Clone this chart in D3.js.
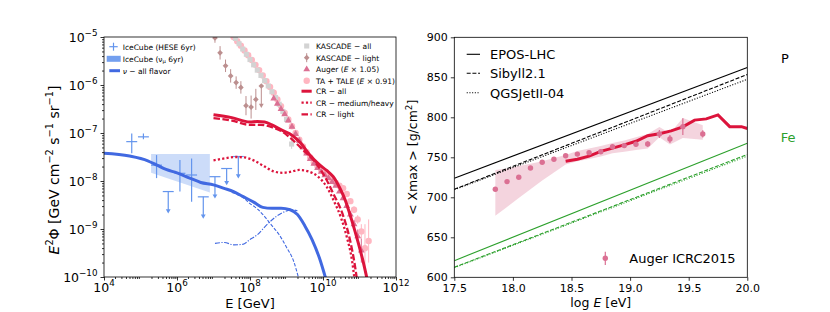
<!DOCTYPE html>
<html>
<head>
<meta charset="utf-8">
<script src="https://cdnjs.cloudflare.com/ajax/libs/d3/7.8.5/d3.min.js"></script>
<style>
  body { margin: 0; background: #fff; }
  svg { font-family: "DejaVu Sans", sans-serif; }
</style>
</head>
<body>
<svg id="chart" width="830" height="312"></svg>
<script>
// ---------- left panel, values are log10(E / GeV) and log10(E^2 Phi) ----------
var nuE    = [4.0, 4.7, 5.2, 5.45, 5.7, 6.0, 6.35, 6.65, 7.0, 7.27, 7.55, 7.8, 8.1, 8.35, 8.6, 8.85, 9.1, 9.3, 9.5, 9.7, 9.9, 10.07];
var nuAll  = [-7.42, -7.48, -7.58, -7.67, -7.76, -7.83, -7.94, -8.03, -8.08, -8.15, -8.22, -8.32, -8.44, -8.55, -8.57, -8.57, -8.60, -8.70, -8.93, -9.22, -9.6, -10.02];
var nuPpE  = [7.5, 7.8, 8.0, 8.2, 8.4, 8.6, 8.8, 9.0, 9.2, 9.33];
var nuPp   = [-8.24, -8.34, -8.47, -8.58, -8.74, -8.93, -9.12, -9.38, -9.68, -10.02];
var nuPgE  = [7.04, 7.3, 7.55, 7.8, 8.0, 8.2, 8.45, 8.7, 8.95, 9.15, 9.3];
var nuPg   = [-9.30, -9.28, -9.33, -9.32, -9.22, -9.12, -8.92, -8.75, -8.64, -8.60, -8.62];

var crE      = [7.0, 7.5, 8.0, 8.2, 8.4, 8.6, 8.9, 9.1, 9.4, 9.65, 9.9, 10.1, 10.28, 10.45, 10.6, 10.78, 10.97, 11.1, 11.21];
var crAll    = [-6.62, -6.68, -6.77, -6.76, -6.77, -6.83, -6.95, -7.02, -7.22, -7.47, -7.66, -7.78, -7.91, -8.13, -8.38, -8.80, -9.30, -9.68, -10.05];
var crLightE = [7.0, 7.5, 8.0, 8.3, 8.6, 8.9, 9.1, 9.45, 9.8, 10.1, 10.28, 10.56, 10.74, 10.88, 10.93];
var crLight  = [-6.69, -6.74, -6.83, -6.83, -6.88, -6.98, -7.10, -7.35, -7.62, -7.98, -8.26, -8.74, -9.23, -9.79, -10.05];
var crHeavyE = [7.0, 7.3, 7.6, 7.85, 8.1, 8.4, 8.65, 8.9, 9.1, 9.35, 9.6, 9.85, 10.1, 10.3, 10.5, 10.65, 10.8, 10.86];
var crHeavy  = [-7.57, -7.53, -7.50, -7.51, -7.57, -7.70, -7.80, -7.83, -7.81, -7.77, -7.80, -7.90, -8.12, -8.42, -8.78, -9.16, -9.68, -10.02];

// IceCube HESE 6yr (ul = upper limit, lo = arrow end)
var hesE  = [4.76, 5.08, 5.44, 5.76, 6.08, 6.40, 6.72, 7.04, 7.36, 7.68];
var hesY  = [-7.18, -7.08, -7.67, -8.22, -7.84, -7.875, -8.33, -7.91, -7.74, -7.49];
var hesLo = [-7.42, -7.13, -7.94, -8.64, -8.22, -8.43, -8.75, -8.33, -8.05, -7.91];
var hesHi = [-7.01, -7.01, -7.46, -8.22, -7.56, -7.53, -8.33, -7.91, -7.74, -7.49];
var hesUL = [0, 0, 0, 1, 0, 0, 1, 1, 1, 1];
// IceCube numu 6yr band
var bandE  = [5.29, 6.90];
var bandLo = [-7.83, -8.24];
var bandHi = [-7.44, -7.44];

var kaE   = [7.3, 7.4, 7.5, 7.6, 7.7, 7.8, 7.9, 8.0, 8.1, 8.2, 8.3, 8.4, 8.5, 8.6, 8.7, 8.8, 8.9, 9.0, 9.14];
var kaY   = [-4.70, -4.81, -4.92, -5.03, -5.14, -5.25, -5.36, -5.47, -5.58, -5.69, -5.80, -5.91, -6.02, -6.14, -6.26, -6.40, -6.55, -6.72, -7.23];
var kaErr = [0.02, 0.02, 0.02, 0.02, 0.02, 0.02, 0.02, 0.02, 0.02, 0.02, 0.02, 0.02, 0.02, 0.03, 0.03, 0.04, 0.05, 0.06, 0.10];

var klE   = [7.04, 7.18, 7.33, 7.47, 7.62, 7.75, 7.89, 8.03, 8.16, 8.31];
var klY   = [-5.02, -5.33, -5.60, -5.81, -5.95, -6.05, -6.43, -6.46, -6.30, -6.02];
var klErr = [0.10, 0.14, 0.13, 0.14, 0.13, 0.13, 0.20, 0.24, 0.22, 0.42];
var klUL  = [0, 0, 0, 0, 0, 0, 0, 0, 0, 1];

var auE   = [8.65, 8.75, 8.85, 8.95, 9.05, 9.15, 9.25, 9.35, 9.45, 9.55, 9.65, 9.75, 9.85, 9.95, 10.05, 10.15, 10.25, 10.35, 10.45, 10.55, 10.65, 10.75, 10.85, 10.95, 11.05];
var auY   = [-6.28, -6.39, -6.50, -6.61, -6.74, -6.87, -7.02, -7.16, -7.30, -7.43, -7.54, -7.64, -7.73, -7.81, -7.88, -7.94, -8.02, -8.10, -8.22, -8.36, -8.52, -8.70, -8.90, -9.15, -9.45];
var auErr = [0.02, 0.02, 0.02, 0.02, 0.02, 0.02, 0.02, 0.02, 0.02, 0.02, 0.02, 0.02, 0.02, 0.02, 0.02, 0.02, 0.02, 0.03, 0.03, 0.04, 0.05, 0.06, 0.09, 0.14, 0.25];

var taE   = [7.45, 7.55, 7.65, 7.75, 7.85, 7.95, 8.05, 8.15, 8.25, 8.35, 8.45, 8.55, 8.65, 8.75, 8.85, 8.95, 9.05, 9.15, 9.25, 9.35, 9.45, 9.55, 9.65, 9.75, 9.85, 9.95, 10.05, 10.15, 10.25, 10.35, 10.45, 10.55, 10.65, 10.75, 10.85, 10.95, 11.05, 11.15, 11.25];
var taY   = [-4.90, -5.0, -5.09, -5.18, -5.28, -5.38, -5.48, -5.58, -5.69, -5.80, -5.92, -6.04, -6.16, -6.30, -6.44, -6.58, -6.72, -6.86, -7.0, -7.14, -7.28, -7.40, -7.51, -7.61, -7.70, -7.77, -7.84, -7.90, -7.97, -8.04, -8.10, -8.15, -8.27, -8.42, -8.60, -8.80, -9.05, -9.40, -9.25];
var taErr = [0.02, 0.02, 0.02, 0.02, 0.02, 0.02, 0.02, 0.02, 0.02, 0.02, 0.02, 0.02, 0.02, 0.02, 0.02, 0.02, 0.02, 0.02, 0.02, 0.02, 0.02, 0.02, 0.02, 0.02, 0.02, 0.02, 0.02, 0.02, 0.02, 0.03, 0.03, 0.04, 0.05, 0.06, 0.07, 0.09, 0.15, 0.5, 0.45];

var xTickExp = [4, 6, 8, 10, 12];
var yTickExp = [-10, -9, -8, -7, -6, -5];

// ---------- right panel, <Xmax> in g/cm^2 vs log10(E / eV) ----------
var mdlE   = [17.5, 20.0];
var pEpos  = [723.8, 862.3];
var pSib   = [710.0, 853.5];
var pQgs   = [709.5, 847.5];
var feEpos = [620.8, 767.5];
var feSib  = [612.5, 753.5];
var feQgs  = [612.0, 751.5];

var xmE     = [17.85, 17.95, 18.05, 18.15, 18.25, 18.35, 18.45, 18.55, 18.65, 18.75, 18.85, 18.95, 19.05, 19.15, 19.25, 19.34, 19.45, 19.62];
var xmVal   = [710, 719.6, 725, 736.7, 743.8, 747.5, 752, 754, 755.8, 757, 763.3, 764.6, 766.3, 766.7, 779.2, 772.9, 788.3, 779.2];
var xmErr   = [2, 2, 2, 2, 2, 2, 2, 2, 2, 2, 2.5, 3, 3, 3.5, 5, 5, 10.5, 4.5];
var xmSysLo = [677, 688, 699, 710, 721, 731, 741, 745, 748, 751, 755, 757, 759, 761, 775, 766, 774, 772];
var xmSysHi = [734, 736, 739, 742, 745, 749, 753, 758, 761, 764, 768, 771, 775, 779, 788, 780, 799, 790];

var modE = [18.45, 18.55, 18.65, 18.75, 18.85, 18.95, 19.05, 19.15, 19.25, 19.35, 19.45, 19.55, 19.65, 19.75, 19.85, 19.95, 20.0];
var modX = [745, 747.5, 751.5, 757.5, 761.5, 765.5, 770, 777, 779.5, 783, 788, 796.5, 798, 803, 788.3, 788.3, 786];

var rxTicks = [17.5, 18.0, 18.5, 19.0, 19.5, 20.0];
var ryTicks = [600, 650, 700, 750, 800, 850, 900];

// ---------- helpers ----------
var svg = d3.select("#chart");
var ex = function (v) { return Math.pow(10, v); };
var zip = function (a, b) { return a.map(function (v, i) { return [v, b[i]]; }); };

function rich(sel, parts, fs) {
  var shift = 0;
  parts.forEach(function (p) {
    var s = p[1] || "";
    var t = sel.append("tspan").text(p[0]);
    var target = 0;
    if (s.indexOf("sup") >= 0) target = -0.42 * fs;
    if (s.indexOf("sub") >= 0) target = 0.25 * fs;
    if (target !== shift) { t.attr("dy", target - shift); shift = target; }
    if (target !== 0) t.attr("font-size", 0.7 * fs);
    if (s.indexOf("it") >= 0) t.attr("font-style", "italic");
  });
}

var blue = "#4169E1", cblue = "#6495ED", crimson = "#DC143C";
var green = "#2ca02c";

// ================= LEFT PANEL =================
var L = { left: 104, right: 396, top: 37, bottom: 277 };
var xL = d3.scaleLog().domain([1e4, 1e12]).range([L.left, L.right]);
var yL = d3.scaleLog().domain([1e-10, 1e-5]).range([L.bottom, L.top]);
var px = function (v) { return xL(ex(v)); };
var py = function (v) { return yL(ex(v)); };

svg.append("clipPath").attr("id", "clipL").append("rect")
  .attr("x", L.left).attr("y", L.top).attr("width", L.right - L.left).attr("height", L.bottom - L.top);

var gL = svg.append("g");
var plotL = gL.append("g").attr("clip-path", "url(#clipL)");

// numu band
plotL.append("path")
  .datum(bandE.map(function (e, i) { return [e, bandLo[i], bandHi[i]]; }))
  .attr("d", d3.area().x(function (d) { return px(d[0]); }).y0(function (d) { return py(d[1]); }).y1(function (d) { return py(d[2]); }))
  .attr("fill", cblue).attr("fill-opacity", 0.33);

// error bars helper
function vbar(g, e, lo, hi, col, w) {
  g.append("line").attr("x1", px(e)).attr("x2", px(e)).attr("y1", py(lo)).attr("y2", py(hi))
    .attr("stroke", col).attr("stroke-width", w);
}
function arrowHead(g, e, y, col) {
  g.append("path").attr("d", d3.symbol(d3.symbolTriangle, 10)())
    .attr("transform", "translate(" + px(e) + "," + (py(y) - 1) + ") rotate(180)")
    .attr("fill", col);
}

// TA + TALE
var gTa = plotL.append("g");
taE.forEach(function (e, i) { vbar(gTa, e, taY[i] - taErr[i], taY[i] + taErr[i], "#FFB6C1", 1); });
gTa.selectAll("circle").data(zip(taE, taY)).enter().append("circle")
  .attr("cx", function (d) { return px(d[0]); }).attr("cy", function (d) { return py(d[1]); })
  .attr("r", 3.2).attr("fill", "#FFB6C1");

// KASCADE all
var gKa = plotL.append("g");
kaE.forEach(function (e, i) { vbar(gKa, e, kaY[i] - kaErr[i], kaY[i] + kaErr[i], "#D3D3D3", 1); });
gKa.selectAll("path.sq").data(zip(kaE, kaY)).enter().append("path").attr("class", "sq")
  .attr("d", d3.symbol(d3.symbolSquare, 26)())
  .attr("transform", function (d) { return "translate(" + px(d[0]) + "," + py(d[1]) + ")"; })
  .attr("fill", "#D3D3D3");

// KASCADE light
var gKl = plotL.append("g");
klE.forEach(function (e, i) {
  if (klUL[i]) {
    vbar(gKl, e, klY[i] - klErr[i], klY[i], "#BC8F8F", 1);
    arrowHead(gKl, e, klY[i] - klErr[i], "#BC8F8F");
  } else {
    vbar(gKl, e, klY[i] - klErr[i], klY[i] + klErr[i], "#BC8F8F", 1);
  }
});
gKl.selectAll("path.dm").data(zip(klE, klY)).enter().append("path").attr("class", "dm")
  .attr("d", d3.symbol(d3.symbolSquare, 16)())
  .attr("transform", function (d) { return "translate(" + px(d[0]) + "," + py(d[1]) + ") rotate(45)"; })
  .attr("fill", "#BC8F8F");

// Auger
var gAu = plotL.append("g");
auE.forEach(function (e, i) { vbar(gAu, e, auY[i] - auErr[i], auY[i] + auErr[i], "#DB7093", 1); });
gAu.selectAll("path.tr").data(zip(auE, auY)).enter().append("path").attr("class", "tr")
  .attr("d", d3.symbol(d3.symbolTriangle, 20)())
  .attr("transform", function (d) { return "translate(" + px(d[0]) + "," + py(d[1]) + ")"; })
  .attr("fill", "#DB7093");

// IceCube HESE
var gHe = plotL.append("g");
hesE.forEach(function (e, i) {
  gHe.append("line").attr("x1", px(e - 0.15)).attr("x2", px(e + 0.15)).attr("y1", py(hesY[i])).attr("y2", py(hesY[i]))
    .attr("stroke", cblue).attr("stroke-width", 1.2);
  vbar(gHe, e, hesLo[i], hesHi[i], cblue, 1.2);
  if (hesUL[i]) arrowHead(gHe, e, hesLo[i], cblue);
});

// model lines
function logLine(E, Y) {
  return d3.line().curve(d3.curveMonotoneX)
    .x(function (d) { return px(d[0]); }).y(function (d) { return py(d[1]); })(zip(E, Y));
}
plotL.append("path").attr("d", logLine(nuPpE, nuPp)).attr("fill", "none")
  .attr("stroke", blue).attr("stroke-width", 1.1).attr("stroke-dasharray", "3.5,1.6");
plotL.append("path").attr("d", logLine(nuPgE, nuPg)).attr("fill", "none")
  .attr("stroke", blue).attr("stroke-width", 1.1).attr("stroke-dasharray", "5,1.5,1.2,1.5");
plotL.append("path").attr("d", logLine(nuE, nuAll)).attr("fill", "none")
  .attr("stroke", blue).attr("stroke-width", 3);
plotL.append("path").attr("d", logLine(crHeavyE, crHeavy)).attr("fill", "none")
  .attr("stroke", crimson).attr("stroke-width", 2.3).attr("stroke-dasharray", "2.2,2.2");
plotL.append("path").attr("d", logLine(crLightE, crLight)).attr("fill", "none")
  .attr("stroke", crimson).attr("stroke-width", 2.3).attr("stroke-dasharray", "6.5,2.5");
plotL.append("path").attr("d", logLine(crE, crAll)).attr("fill", "none")
  .attr("stroke", crimson).attr("stroke-width", 3);

// axes
var minorX = [], minorY = [];
d3.range(4, 12).forEach(function (d) { d3.range(2, 10).forEach(function (k) { minorX.push(k * ex(d)); }); });
d3.range(-10, -5).forEach(function (d) { d3.range(2, 10).forEach(function (k) { minorY.push(k * ex(d)); }); });

function styleAxis(g) { g.select(".domain").remove(); g.selectAll("line").attr("stroke", "#000").attr("stroke-width", 0.8); }
gL.append("g").attr("transform", "translate(0," + L.bottom + ")")
  .call(d3.axisBottom(xL).tickValues(minorX).tickSize(2).tickFormat("")).call(styleAxis);
gL.append("g").attr("transform", "translate(0," + L.bottom + ")")
  .call(d3.axisBottom(xL).tickValues(xTickExp.map(ex)).tickSize(3.5).tickFormat("")).call(styleAxis);
gL.append("g").attr("transform", "translate(" + L.left + ",0)")
  .call(d3.axisLeft(yL).tickValues(minorY).tickSize(2).tickFormat("")).call(styleAxis);
gL.append("g").attr("transform", "translate(" + L.left + ",0)")
  .call(d3.axisLeft(yL).tickValues(yTickExp.map(ex)).tickSize(3.5).tickFormat("")).call(styleAxis);

xTickExp.forEach(function (e) {
  var t = gL.append("text").attr("x", xL(ex(e))).attr("y", L.bottom + 14.5)
    .attr("text-anchor", "middle").attr("font-size", 12.5);
  rich(t, [["10"], [String(e), "sup"]], 12.5);
});
yTickExp.forEach(function (e) {
  var t = gL.append("text").attr("x", L.left - 6.5).attr("y", yL(ex(e)) + 4.5)
    .attr("text-anchor", "end").attr("font-size", 12.5);
  rich(t, [["10"], [String(e).replace("-", "\u2212"), "sup"]], 12.5);
});

gL.append("rect").attr("x", L.left).attr("y", L.top).attr("width", L.right - L.left).attr("height", L.bottom - L.top)
  .attr("fill", "none").attr("stroke", "#000").attr("stroke-width", 0.8);

var xlab = gL.append("text").attr("x", (L.left + L.right) / 2).attr("y", 307.5).attr("text-anchor", "middle").attr("font-size", 13);
rich(xlab, [["E [GeV]"]], 13);
var ylab = gL.append("text").attr("transform", "translate(59,170) rotate(-90)")
  .attr("text-anchor", "middle").attr("font-size", 14);
rich(ylab, [["E", "it"], ["2", "sup"], ["\u03a6 [GeV cm"], ["\u22122", "sup"], [" s"], ["\u22121", "sup"], [" sr"], ["\u22121", "sup"], ["]"]], 14);

// left legends
var lg1 = gL.append("g").attr("font-size", 7.5);
var r1 = [46.7, 58.8, 70.7];
lg1.append("line").attr("x1", 109.3).attr("x2", 117.7).attr("y1", r1[0]).attr("y2", r1[0]).attr("stroke", cblue).attr("stroke-width", 1.2);
lg1.append("line").attr("x1", 113.5).attr("x2", 113.5).attr("y1", r1[0] - 4).attr("y2", r1[0] + 4).attr("stroke", cblue).attr("stroke-width", 1.2);
lg1.append("rect").attr("x", 106.7).attr("y", r1[1] - 3).attr("width", 14).attr("height", 6).attr("fill", cblue).attr("fill-opacity", 0.9);
lg1.append("line").attr("x1", 109.3).attr("x2", 120).attr("y1", r1[2]).attr("y2", r1[2]).attr("stroke", blue).attr("stroke-width", 3);
rich(lg1.append("text").attr("x", 122.7).attr("y", r1[0] + 2.8), [["IceCube (HESE 6yr)"]], 7.5);
rich(lg1.append("text").attr("x", 122.7).attr("y", r1[1] + 2.8), [["IceCube ("], ["\u03bd"], ["\u03bc", "sub"], [" 6yr)"]], 7.5);
rich(lg1.append("text").attr("x", 122.7).attr("y", r1[2] + 2.8), [["\u03bd", "it"], [" \u2212 all flavor"]], 7.5);

var lg2 = gL.append("g").attr("font-size", 7.5);
var r2 = [46, 57.7, 69.3, 80.8, 91.2, 102.7, 114.3];
var mx = 306.7;
lg2.append("path").attr("d", d3.symbol(d3.symbolSquare, 26)()).attr("transform", "translate(" + mx + "," + r2[0] + ")").attr("fill", "#D3D3D3");
lg2.append("line").attr("x1", mx).attr("x2", mx).attr("y1", r2[1] - 4.5).attr("y2", r2[1] + 4.5).attr("stroke", "#BC8F8F").attr("stroke-width", 1);
lg2.append("path").attr("d", d3.symbol(d3.symbolSquare, 16)()).attr("transform", "translate(" + mx + "," + r2[1] + ") rotate(45)").attr("fill", "#BC8F8F");
lg2.append("path").attr("d", d3.symbol(d3.symbolTriangle, 20)()).attr("transform", "translate(" + mx + "," + r2[2] + ")").attr("fill", "#DB7093");
lg2.append("circle").attr("cx", mx).attr("cy", r2[3]).attr("r", 3.2).attr("fill", "#FFB6C1");
lg2.append("line").attr("x1", 301.5).attr("x2", 311.7).attr("y1", r2[4]).attr("y2", r2[4]).attr("stroke", crimson).attr("stroke-width", 3);
lg2.append("line").attr("x1", 301.5).attr("x2", 311.7).attr("y1", r2[5]).attr("y2", r2[5]).attr("stroke", crimson).attr("stroke-width", 2.3).attr("stroke-dasharray", "2.2,2.2");
lg2.append("line").attr("x1", 301.5).attr("x2", 311.7).attr("y1", r2[6]).attr("y2", r2[6]).attr("stroke", crimson).attr("stroke-width", 2.3).attr("stroke-dasharray", "6.5,2.5");
var lab2 = [
  [["KASCADE \u2212 all"]],
  [["KASCADE \u2212 light"]],
  [["Auger ("], ["E", "it"], [" \u00d7 1.05)"]],
  [["TA + TALE ("], ["E", "it"], [" \u00d7 0.91)"]],
  [["CR \u2212 all"]],
  [["CR \u2212 medium/heavy"]],
  [["CR \u2212 light"]]
];
lab2.forEach(function (p, i) { rich(lg2.append("text").attr("x", 316).attr("y", r2[i] + 2.8), p, 7.5); });

// ================= RIGHT PANEL =================
var R = { left: 454.3, right: 747.3, top: 37.3, bottom: 277.3 };
var xR = d3.scaleLinear().domain([17.5, 20]).range([R.left, R.right]);
var yR = d3.scaleLinear().domain([600, 900]).range([R.bottom, R.top]);
svg.append("clipPath").attr("id", "clipR").append("rect")
  .attr("x", R.left).attr("y", R.top).attr("width", R.right - R.left).attr("height", R.bottom - R.top);
var gR = svg.append("g");
var plotR = gR.append("g").attr("clip-path", "url(#clipR)");

plotR.append("path")
  .datum(xmE.map(function (e, i) { return [e, xmSysLo[i], xmSysHi[i]]; }))
  .attr("d", d3.area().x(function (d) { return xR(d[0]); }).y0(function (d) { return yR(d[1]); }).y1(function (d) { return yR(d[2]); }))
  .attr("fill", "#DB7093").attr("fill-opacity", 0.3);

function linLine(E, Y) {
  return d3.line().x(function (d) { return xR(d[0]); }).y(function (d) { return yR(d[1]); })(zip(E, Y));
}
var mdl = [
  [pEpos, "#000", null], [pSib, "#000", "4,1.7"], [pQgs, "#000", "1.1,1.6"],
  [feEpos, green, null], [feSib, green, "4,1.7"], [feQgs, green, "1.1,1.6"]
];
mdl.forEach(function (m) {
  plotR.append("path").attr("d", linLine(mdlE, m[0])).attr("fill", "none")
    .attr("stroke", m[1]).attr("stroke-width", 1.1).attr("stroke-dasharray", m[2]);
});
plotR.append("path").attr("d", linLine(modE, modX)).attr("fill", "none")
  .attr("stroke", crimson).attr("stroke-width", 3).attr("stroke-linejoin", "miter");

xmE.forEach(function (e, i) {
  plotR.append("line").attr("x1", xR(e)).attr("x2", xR(e)).attr("y1", yR(xmVal[i] - xmErr[i])).attr("y2", yR(xmVal[i] + xmErr[i]))
    .attr("stroke", "#DB7093").attr("stroke-width", 1.2);
});
plotR.selectAll("circle").data(zip(xmE, xmVal)).enter().append("circle")
  .attr("cx", function (d) { return xR(d[0]); }).attr("cy", function (d) { return yR(d[1]); })
  .attr("r", 2.7).attr("fill", "#DB7093");

gR.append("g").attr("transform", "translate(0," + R.bottom + ")")
  .call(d3.axisBottom(xR).tickValues(rxTicks).tickSize(3.5).tickPadding(3).tickFormat(d3.format(".1f"))).call(styleAxis)
  .selectAll("text").attr("font-size", 11).attr("font-family", "DejaVu Sans").attr("fill", "#000");
gR.append("g").attr("transform", "translate(" + R.left + ",0)")
  .call(d3.axisLeft(yR).tickValues(ryTicks).tickSize(3.5).tickFormat(d3.format("d"))).call(styleAxis)
  .selectAll("text").attr("font-size", 11).attr("font-family", "DejaVu Sans").attr("fill", "#000");

gR.append("rect").attr("x", R.left).attr("y", R.top).attr("width", R.right - R.left).attr("height", R.bottom - R.top)
  .attr("fill", "none").attr("stroke", "#000").attr("stroke-width", 0.8);

rich(gR.append("text").attr("x", (R.left + R.right) / 2).attr("y", 306.5).attr("text-anchor", "middle").attr("font-size", 12.5),
  [["log "], ["E", "it"], [" [eV]"]], 12.5);
rich(gR.append("text").attr("transform", "translate(417," + ((R.top + R.bottom) / 2) + ") rotate(-90)")
  .attr("text-anchor", "middle").attr("font-size", 12.5),
  [["< Xmax > [g/cm"], ["2", "sup"], ["]"]], 12.5);

// right legend
var lg3 = gR.append("g").attr("font-size", 13);
var r3 = [54.3, 73.3, 92.7];
[[null], ["4,1.7"], ["1.1,1.6"]].forEach(function (d, i) {
  lg3.append("line").attr("x1", 466.7).attr("x2", 480).attr("y1", r3[i]).attr("y2", r3[i])
    .attr("stroke", "#000").attr("stroke-width", 1.1).attr("stroke-dasharray", d[0]);
});
["EPOS-LHC", "Sibyll2.1", "QGSJetII-04"].forEach(function (s, i) {
  lg3.append("text").attr("x", 490).attr("y", r3[i] + 4.8).text(s);
});
lg3.append("line").attr("x1", 605.3).attr("x2", 605.3).attr("y1", 251.7).attr("y2", 265).attr("stroke", "#DB7093").attr("stroke-width", 1.2);
lg3.append("circle").attr("cx", 605.3).attr("cy", 258.3).attr("r", 2.7).attr("fill", "#DB7093");
lg3.append("text").attr("x", 629.3).attr("y", 263).text("Auger ICRC2015");

gR.append("text").attr("x", 781).attr("y", 63).attr("font-size", 13).text("P");
gR.append("text").attr("x", 780.7).attr("y", 142).attr("font-size", 13).attr("fill", green).text("Fe");
</script>
</body>
</html>
